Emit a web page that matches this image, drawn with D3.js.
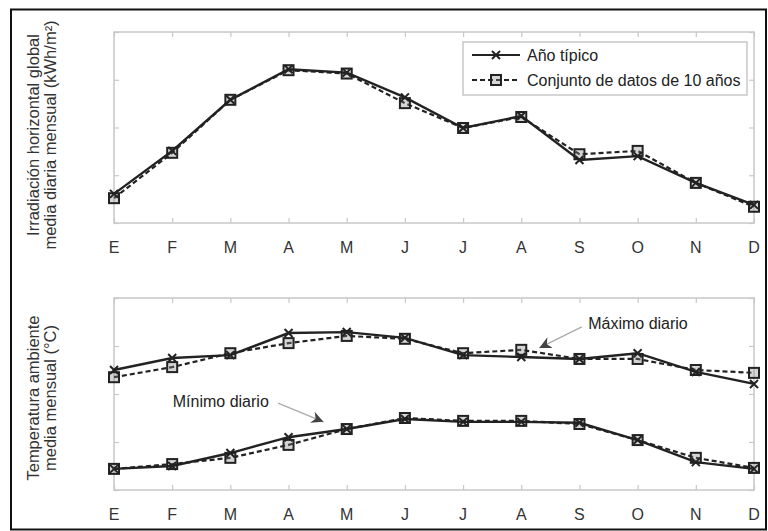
<!DOCTYPE html>
<html>
<head>
<meta charset="utf-8">
<script src="https://cdn.jsdelivr.net/npm/d3@7"></script>
<style>
  body { margin: 0; background: #fff; }
  svg { display: block; font-family: "Liberation Sans", Arial, sans-serif; }
</style>
</head>
<body>
<svg id="chart" width="768" height="531"></svg>
<script>
// ---- data ----
const months = ["E", "F", "M", "A", "M", "J", "J", "A", "S", "O", "N", "D"];
const irrTypical = [2.61, 3.51, 4.58, 5.22, 5.15, 4.63, 3.99, 4.24, 3.32, 3.40, 2.84, 2.38];
const irrTenYears = [2.52, 3.47, 4.58, 5.20, 5.13, 4.51, 3.99, 4.22, 3.44, 3.51, 2.84, 2.34];
const tmaxTypical = [25.0, 27.5, 28.1, 32.7, 32.9, 31.7, 28.1, 27.7, 27.3, 28.5, 24.6, 22.1];
const tmaxTenYears = [23.5, 25.6, 28.5, 30.6, 32.1, 31.5, 28.5, 29.2, 27.3, 27.3, 25.0, 24.4];
const tminTypical = [4.4, 5.0, 7.7, 11.0, 12.7, 14.8, 14.2, 14.2, 14.0, 10.4, 5.8, 4.4];
const tminTenYears = [4.4, 5.4, 6.7, 9.4, 12.7, 15.0, 14.4, 14.4, 13.75, 10.4, 6.7, 4.6];
const irrTicks = [2, 3, 4, 5, 6];
const tempTicks = [0, 10, 20, 30, 40];
const legendLabels = ["Año típico", "Conjunto de datos de 10 años"];
const yLabelsTop = ["Irradiación horizontal global", "media diaria mensual (kWh/m²)"];
const yLabelsBottom = ["Temperatura ambiente", "media mensual (°C)"];
// annotations: [text, textX(index), textY(value), arrowFrom[x,y], arrowTo[x,y]]
const annotations = [
  { text: "Mínimo diario", tx: 1.01, ty: 17.3, from: [2.82, 18.1], to: [3.6, 14.2] },
  { text: "Máximo diario", tx: 8.15, ty: 33.6, from: [8.04, 34.0], to: [7.31, 29.6] }
];

const svg = d3.select("#chart");
const ink = "#222";
const frameCol = "#c8c8c8";

// outer frame
svg.append("rect").attr("x", 11).attr("y", 9.5).attr("width", 755).attr("height", 520)
  .attr("fill", "none").attr("stroke", "#111").attr("stroke-width", 2);

const x = d3.scaleLinear().domain([0, 11]).range([114, 754]);

const defs = svg.append("defs");
defs.append("marker").attr("id", "ah").attr("viewBox", "0 0 10 10")
  .attr("refX", 10).attr("refY", 5).attr("markerWidth", 12).attr("markerHeight", 12)
  .attr("markerUnits", "userSpaceOnUse").attr("orient", "auto")
  .append("path").attr("d", "M0,0 L10,5 L0,10 L3,5 Z").attr("fill", "#444");

function drawPanel(top, bottom, ticks, series, yLabels, labelCenter) {
  const y = d3.scaleLinear().domain([ticks[0], ticks[ticks.length - 1]]).range([bottom, top]);
  const g = svg.append("g");
  // frame
  g.append("rect").attr("x", x(0)).attr("y", top).attr("width", x(11) - x(0)).attr("height", bottom - top)
    .attr("fill", "none").attr("stroke", frameCol).attr("stroke-width", 1.5);
  // axes with inward ticks
  const tl = 5;
  g.append("g").attr("transform", `translate(0,${bottom})`)
    .call(d3.axisBottom(x).tickValues(d3.range(12)).tickSize(-tl).tickFormat(""))
    .call(a => a.select(".domain").remove())
    .call(a => a.selectAll("line").attr("stroke", frameCol).attr("stroke-width", 1.2));
  g.append("g").attr("transform", `translate(0,${top})`)
    .call(d3.axisTop(x).tickValues(d3.range(12)).tickSize(-tl).tickFormat(""))
    .call(a => a.select(".domain").remove())
    .call(a => a.selectAll("line").attr("stroke", frameCol).attr("stroke-width", 1.2));
  g.append("g").attr("transform", `translate(${x(0)},0)`)
    .call(d3.axisLeft(y).tickValues(ticks).tickSize(-tl).tickFormat(""))
    .call(a => a.select(".domain").remove())
    .call(a => a.selectAll("line").attr("stroke", frameCol).attr("stroke-width", 1.2));
  g.append("g").attr("transform", `translate(${x(11)},0)`)
    .call(d3.axisRight(y).tickValues(ticks).tickSize(-tl).tickFormat(""))
    .call(a => a.select(".domain").remove())
    .call(a => a.selectAll("line").attr("stroke", frameCol).attr("stroke-width", 1.2));
  // month labels
  g.selectAll("text.month").data(months).join("text").attr("class", "month")
    .attr("x", (d, i) => x(i)).attr("y", bottom + 30)
    .attr("text-anchor", "middle").attr("font-size", 16).attr("fill", "#333").text(d => d);
  // y labels
  yLabels.forEach((t, i) => {
    g.append("text").attr("transform", `translate(${39 + i * 17},${labelCenter}) rotate(-90)`)
      .attr("text-anchor", "middle").attr("font-size", 16.5).attr("fill", "#333").text(t);
  });
  // series
  const line = d3.line().x((d, i) => x(i)).y(d => y(d));
  series.forEach(s => {
    drawSeries(g, s.values, s.dashed, line, y);
  });
  return y;
}

function drawSeries(g, values, dashed, line, y) {
  g.append("path").datum(values).attr("d", line).attr("fill", "none")
    .attr("stroke", ink).attr("stroke-width", dashed ? 2.2 : 2.4)
    .attr("stroke-dasharray", dashed ? "5,3" : null);
  if (dashed) {
    g.selectAll(null).data(values).join("rect")
      .attr("x", (d, i) => x(i) - 5).attr("y", d => y(d) - 5).attr("width", 10).attr("height", 10)
      .attr("fill", "#888").attr("fill-opacity", 0.35).attr("stroke", ink).attr("stroke-width", 2);
  } else {
    g.selectAll(null).data(values).join("path")
      .attr("d", (d, i) => `M${x(i) - 4},${y(d) - 4}L${x(i) + 4},${y(d) + 4}M${x(i) - 4},${y(d) + 4}L${x(i) + 4},${y(d) - 4}`)
      .attr("stroke", ink).attr("stroke-width", 2);
  }
}

// top panel
drawPanel(32, 223, irrTicks, [
  { values: irrTenYears, dashed: true },
  { values: irrTypical, dashed: false }
], yLabelsTop, 135);

// bottom panel
const yT = drawPanel(298, 490, tempTicks, [
  { values: tmaxTenYears, dashed: true },
  { values: tmaxTypical, dashed: false },
  { values: tminTenYears, dashed: true },
  { values: tminTypical, dashed: false }
], yLabelsBottom, 398);

// annotations
annotations.forEach(a => {
  svg.append("text").attr("x", x(a.tx)).attr("y", yT(a.ty)).attr("font-size", 16).attr("fill", "#222").text(a.text);
  svg.append("line").attr("x1", x(a.from[0])).attr("y1", yT(a.from[1]))
    .attr("x2", x(a.to[0])).attr("y2", yT(a.to[1]))
    .attr("stroke", "#aaa").attr("stroke-width", 1.3).attr("marker-end", "url(#ah)");
});

// legend
const lg = svg.append("g");
lg.append("rect").attr("x", 463).attr("y", 42).attr("width", 284).attr("height", 53)
  .attr("fill", "#fff").attr("stroke", frameCol).attr("stroke-width", 1.5);
legendLabels.forEach((t, i) => {
  const ly = 55 + i * 25;
  const dashed = i === 1;
  lg.append("line").attr("x1", 472).attr("x2", 520).attr("y1", ly).attr("y2", ly)
    .attr("stroke", ink).attr("stroke-width", 2.2).attr("stroke-dasharray", dashed ? "5,3" : null);
  if (dashed) {
    lg.append("rect").attr("x", 491).attr("y", ly - 5).attr("width", 10).attr("height", 10)
      .attr("fill", "#888").attr("fill-opacity", 0.35).attr("stroke", ink).attr("stroke-width", 2);
  } else {
    lg.append("path").attr("d", `M492,${ly - 4}L500,${ly + 4}M492,${ly + 4}L500,${ly - 4}`)
      .attr("stroke", ink).attr("stroke-width", 2);
  }
  lg.append("text").attr("x", 527).attr("y", ly + 6).attr("font-size", 16).attr("fill", "#222").text(t);
});
</script>
</body>
</html>
